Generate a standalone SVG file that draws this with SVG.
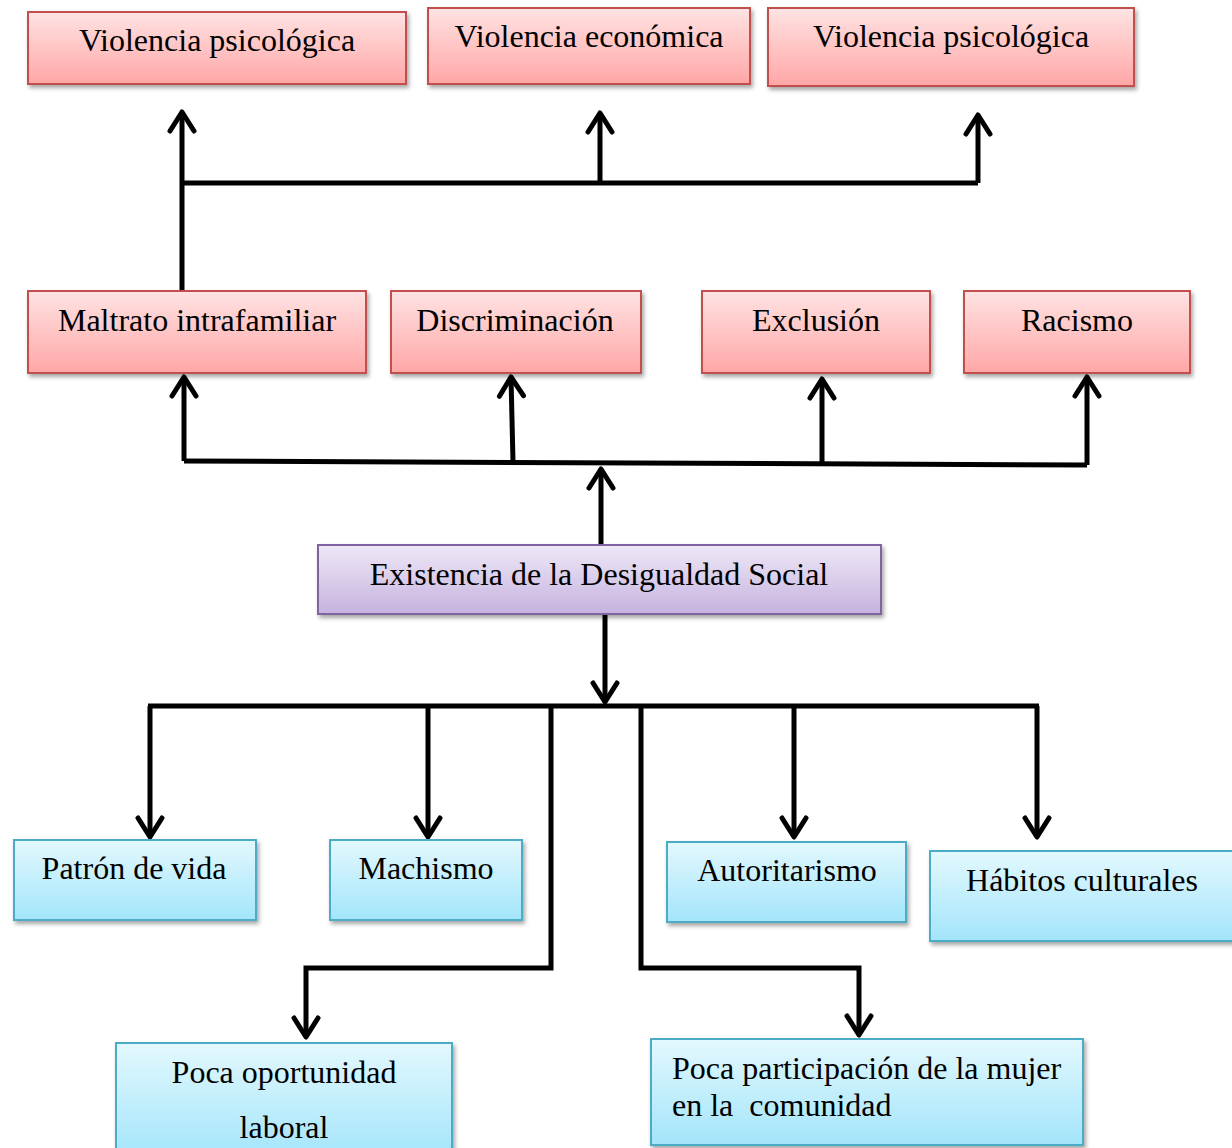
<svg xmlns="http://www.w3.org/2000/svg" width="1232" height="1148" viewBox="0 0 1232 1148">
<defs>
<linearGradient id="gr" x1="0" y1="0" x2="0" y2="1"><stop offset="0" stop-color="#ffe3e3"/><stop offset="1" stop-color="#ffa6a6"/></linearGradient>
<linearGradient id="gp" x1="0" y1="0" x2="0" y2="1"><stop offset="0" stop-color="#eee8f7"/><stop offset="1" stop-color="#c6b2df"/></linearGradient>
<linearGradient id="gb" x1="0" y1="0" x2="0" y2="1"><stop offset="0" stop-color="#e3f8fe"/><stop offset="1" stop-color="#a3e5fa"/></linearGradient>
<filter id="sh" x="-5%" y="-10%" width="115%" height="130%"><feDropShadow dx="2" dy="3" stdDeviation="2" flood-color="#000" flood-opacity="0.35"/></filter>
<marker id="ah" viewBox="0 0 30 30" refX="26" refY="15" markerWidth="30" markerHeight="30" markerUnits="userSpaceOnUse" orient="auto">
<path d="M7,3 L26,15 L7,27" fill="none" stroke="#000" stroke-width="5" stroke-linecap="round" stroke-linejoin="round"/>
</marker>
</defs>
<style>
.r{fill:url(#gr);stroke:#c0504d;stroke-width:2;filter:url(#sh)}
.p{fill:url(#gp);stroke:#8064a2;stroke-width:2;filter:url(#sh)}
.b{fill:url(#gb);stroke:#4bacc6;stroke-width:2;filter:url(#sh)}
text{font-family:"Liberation Serif","Times New Roman",serif;font-size:32px;fill:#000;white-space:pre}
.c{text-anchor:middle}
.ln{fill:none;stroke:#000;stroke-width:5}
</style>
<rect width="1232" height="1148" fill="#fff"/>
<g id="connectors">
<path class="ln" d="M182,291 V112" marker-end="url(#ah)"/>
<path class="ln" d="M182,183 H978"/>
<path class="ln" d="M600,183 V113" marker-end="url(#ah)"/>
<path class="ln" d="M978,183 V115" marker-end="url(#ah)"/>
<path class="ln" d="M184,461 L1087,465"/>
<path class="ln" d="M184,461 V377" marker-end="url(#ah)"/>
<path class="ln" d="M513,462 L511,377" marker-end="url(#ah)"/>
<path class="ln" d="M822,463 V379" marker-end="url(#ah)"/>
<path class="ln" d="M1087,465 V377" marker-end="url(#ah)"/>
<path class="ln" d="M601,545 V469" marker-end="url(#ah)"/>
<path class="ln" d="M605,614 V702" marker-end="url(#ah)"/>
<path class="ln" d="M148,706 H1039"/>
<path class="ln" d="M150,706 V837" marker-end="url(#ah)"/>
<path class="ln" d="M428,706 V837" marker-end="url(#ah)"/>
<path class="ln" d="M794,706 V837" marker-end="url(#ah)"/>
<path class="ln" d="M1037,706 V837" marker-end="url(#ah)"/>
<path class="ln" d="M551,706 V968 H306 V1037" marker-end="url(#ah)"/>
<path class="ln" d="M641,706 V968 H859 V1035" marker-end="url(#ah)"/>
</g>
<g id="n1"><rect class="r" x="28" y="12" width="378" height="72"/><text class="c" x="217" y="51">Violencia psicológica</text></g>
<g id="n2"><rect class="r" x="428" y="8" width="322" height="76"/><text class="c" x="589" y="47">Violencia económica</text></g>
<g id="n3"><rect class="r" x="768" y="8" width="366" height="78"/><text class="c" x="951" y="47">Violencia psicológica</text></g>
<g id="n4"><rect class="r" x="28" y="291" width="338" height="82"/><text class="c" x="197" y="331">Maltrato intrafamiliar</text></g>
<g id="n5"><rect class="r" x="391" y="291" width="250" height="82"/><text class="c" x="515" y="331">Discriminación</text></g>
<g id="n6"><rect class="r" x="702" y="291" width="228" height="82"/><text class="c" x="816" y="331">Exclusión</text></g>
<g id="n7"><rect class="r" x="964" y="291" width="226" height="82"/><text class="c" x="1077" y="331">Racismo</text></g>
<g id="n8"><rect class="p" x="318" y="545" width="563" height="69"/><text class="c" x="599" y="585">Existencia de la Desigualdad Social</text></g>
<g id="n9"><rect class="b" x="14" y="840" width="242" height="80"/><text class="c" x="134" y="879">Patrón de vida</text></g>
<g id="n10"><rect class="b" x="330" y="840" width="192" height="80"/><text class="c" x="426" y="879">Machismo</text></g>
<g id="n11"><rect class="b" x="667" y="842" width="239" height="80"/><text class="c" x="787" y="881">Autoritarismo</text></g>
<g id="n12"><rect class="b" x="930" y="851" width="310" height="90"/><text class="c" x="1082" y="891">Hábitos culturales</text></g>
<g id="n13"><rect class="b" x="116" y="1043" width="336" height="115"/><text class="c" x="284" y="1083">Poca oportunidad</text><text class="c" x="284" y="1138">laboral</text></g>
<g id="n14"><rect class="b" x="651" y="1039" width="432" height="106"/><text x="672" y="1079">Poca participación de la mujer</text><text x="672" y="1116">en la  comunidad</text></g>
</svg>
